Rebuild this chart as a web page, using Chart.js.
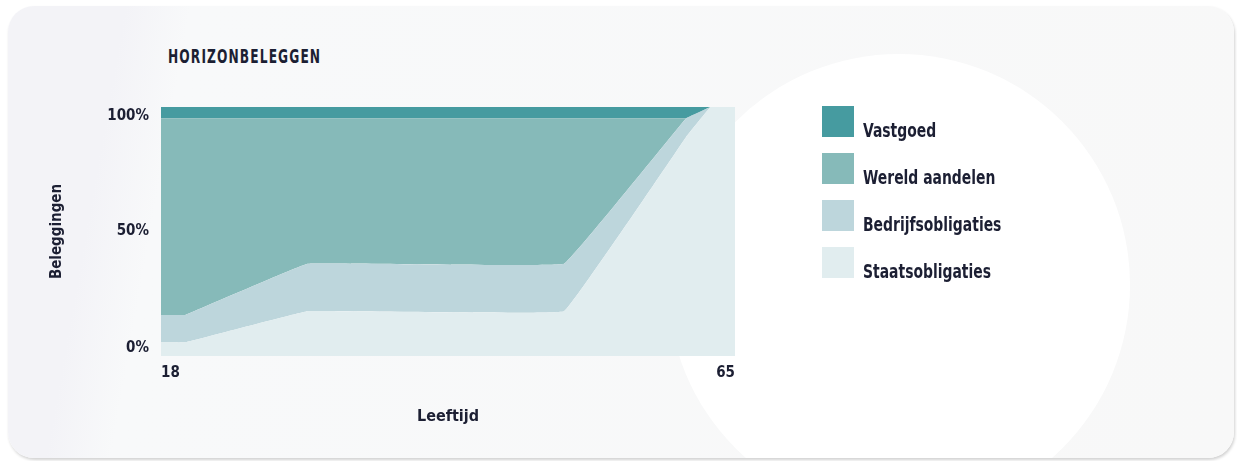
<!DOCTYPE html>
<html>
<head>
<meta charset="utf-8">
<script src="https://cdn.jsdelivr.net/npm/chart.js@4/dist/chart.umd.min.js"></script>
<style>
  html, body { margin: 0; padding: 0; background: #fff; width: 1237px; height: 461px; overflow: hidden; }
  .card {
    position: absolute; left: 8px; top: 6px; width: 1226px; height: 452px;
    border-radius: 26px; overflow: hidden;
    background: linear-gradient(100deg, #f3f3f7 0%, #f3f3f7 9%, #f8f9fa 14%, #f8f8f8 100%);
    box-shadow: 1px 2px 3px rgba(0,0,0,0.18);
  }
  .blob {
    position: absolute; left: 660px; top: 48px; width: 462px; height: 462px;
    border-radius: 50%; background: #fff;
  }
  .title {
    position: absolute; left: 168px; top: 45px; color: #1c1f33;
    font: bold 16px 'DejaVu Sans Condensed', sans-serif;
    letter-spacing: 1.3px; transform: scale(0.85, 1.2); transform-origin: left top;
  }
  #chartWrap { position: absolute; left: 0; top: 0; width: 1237px; height: 461px; }
  .legend { position: absolute; left: 822px; top: 106px; }
  .legend .item { position: relative; height: 47px; }
  .legend .box { position: absolute; left: 0; top: 0; width: 32px; height: 31px; }
  .legend .lbl {
    position: absolute; left: 41px; top: 12px; color: #1c1f33; white-space: nowrap;
    font: bold 18px 'DejaVu Sans Condensed', sans-serif;
    transform: scale(0.86, 1.12); transform-origin: left top;
  }
</style>
</head>
<body>
<div class="card"><div class="blob"></div></div>
<div class="title">HORIZONBELEGGEN</div>
<div id="chartWrap"><canvas id="chart"></canvas></div>
<div class="legend" id="legend"></div>
<script>
// leeftijd (jaren) en verdeling in % per categorie
const ages = [18, 20, 30, 51, 61, 63, 65];
const staatsobligaties = [5.5, 5.5, 18, 18, 88, 100, 100];
const bedrijfsobligaties = [11, 11, 19, 19, 7.5, 0, 0];
const wereldAandelen = [79, 79, 58.5, 58.5, 0, 0, 0];
const vastgoed = [4.5, 4.5, 4.5, 4.5, 4.5, 0, 0];

const yTickLabels = ['0%', '50%', '100%'];
const xTickLabels = ['18', '65'];

const FONT = "'DejaVu Sans Condensed', sans-serif";
const INK = '#1c1f33';

const series = [
    { label: 'Staatsobligaties', values: staatsobligaties, color: '#e1edef' },
    { label: 'Bedrijfsobligaties', values: bedrijfsobligaties, color: '#bdd6dc' },
    { label: 'Wereld aandelen', values: wereldAandelen, color: '#86bab9' },
    { label: 'Vastgoed', values: vastgoed, color: '#469ba0' },
];

const datasets = series.map((s, i) => ({
    label: s.label,
    data: s.values.map((v, j) => ({ x: ages[j], y: v })),
    backgroundColor: s.color,
    borderWidth: 0,
    pointRadius: 0,
    tension: 0.04,
    fill: i === 0 ? 'origin' : '-1',
}));

new Chart(document.getElementById('chart'), {
    type: 'line',
    data: { datasets },
    options: {
        responsive: true,
        maintainAspectRatio: false,
        animation: false,
        layout: { padding: { left: 40, right: 502, top: 107, bottom: 35 } },
        plugins: { legend: { display: false }, tooltip: { enabled: false } },
        scales: {
            x: {
                type: 'linear', min: 18, max: 65,
                grid: { display: false }, border: { display: false },
                afterBuildTicks: (s) => { s.ticks = [{ value: 18 }, { value: 65 }]; },
                afterFit: (s) => { s.height = 70; },
                ticks: {
                    align: 'inner', padding: 0, color: INK,
                    font: { family: FONT, size: 15, weight: 'bold' },
                    callback: (v, i) => xTickLabels[i],
                },
                title: {
                    display: true, text: 'Leeftijd', color: INK,
                    font: { family: FONT, size: 16, weight: 'bold' },
                    padding: { top: 0, bottom: 0 },
                },
            },
            y: {
                stacked: true, min: 0, max: 100,
                grid: { display: false }, border: { display: false },
                afterBuildTicks: (s) => { s.ticks = [{ value: 3 }, { value: 50 }, { value: 96.5 }]; },
                afterFit: (s) => { s.width = 121; },
                ticks: {
                    padding: 4, color: INK,
                    font: { family: FONT, size: 15, weight: 'bold' },
                    callback: (v, i) => yTickLabels[i],
                },
                title: {
                    display: true, text: 'Beleggingen', color: INK,
                    font: { family: FONT, size: 15, weight: 'bold' },
                    padding: { top: 8, bottom: 0 },
                },
            },
        },
    },
});

// legenda (omgekeerde volgorde, donkerste bovenaan)
const legend = document.getElementById('legend');
legend.innerHTML = series.slice().reverse().map((s) =>
    `<div class="item"><div class="box" style="background:${s.color}"></div><div class="lbl">${s.label}</div></div>`
).join('');
</script>
</body>
</html>
